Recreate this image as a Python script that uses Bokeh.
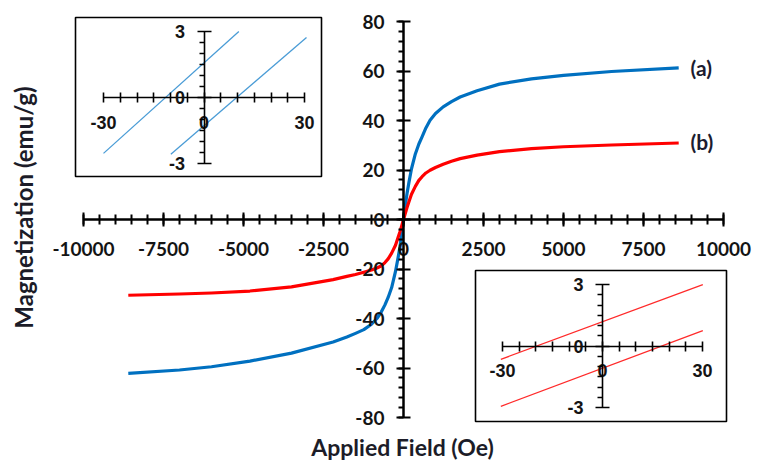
import numpy as np
from bokeh.plotting import figure
from bokeh.models import LinearAxis, Range1d, FixedTicker, NumeralTickFormatter
from bokeh.core.properties import value
from bokeh.embed import file_html
from bokeh.resources import INLINE

# ---------------- data ----------------
field_oe = [-8600, -7000, -6000, -4800, -3500, -2200, -1770, -1500, -1240, -1000, -830, -700, -580, -480,
            -370, -250, -170, -110, -50, 0,
            50, 110, 170, 250, 370, 480, 580, 700, 830, 1000, 1240, 1500, 1770, 2300, 3000, 4000, 5000,
            6500, 8600]
mag_a = [-62.2, -60.8, -59.5, -57.2, -54.0, -49.5, -47.5, -46.0, -44.5, -42.3, -40.0, -37.5, -34.5, -31.5,
         -27.5, -21.0, -15.5, -11.0, -5.0, 0.0,
         5.0, 10.5, 15.0, 20.5, 26.5, 30.5, 33.4, 37.0, 40.1, 42.8, 45.5, 47.6, 49.5, 52.0, 54.7, 56.8, 58.2,
         59.8, 61.3]
mag_b = [-30.6, -30.1, -29.7, -28.9, -27.2, -24.3, -23.0, -22.2, -21.3, -20.4, -19.6, -18.8, -17.4, -15.9,
         -13.6, -10.4, -7.3, -4.9, -2.3, 0.0,
         2.2, 4.8, 7.2, 10.2, 13.4, 15.8, 17.3, 18.8, 19.9, 21.0, 22.3, 23.5, 24.6, 26.0, 27.4, 28.6, 29.4,
         30.1, 30.9]
series_labels = ["(a)", "(b)"]

x_ticks = [-10000, -7500, -5000, -2500, 0, 2500, 5000, 7500, 10000]
x_minor = list(range(-10000, 10001, 500))
y_ticks = [-80, -60, -40, -20, 0, 20, 40, 60, 80]
y_minor = list(range(-80, 81, 4))

# inset (a): low-field loop, blue
ina_up_h = [-30.0, 10.4]
ina_up_m = [-2.54, 3.0]
ina_lo_h = [-9.9, 30.6]
ina_lo_m = [-2.58, 2.73]
# inset (b): low-field loop, red
inb_up_h = [-30.5, 30.1]
inb_up_m = [-0.65, 2.99]
inb_lo_h = [-30.5, 30.1]
inb_lo_m = [-2.94, 0.75]

in_x_ticks = [-30, 0, 30]
in_x_minor = [-25, -20, -15, -10, -5, 5, 10, 15, 20, 25]
in_y_ticks = [-3, 0, 3]
in_y_minor = [-2.5, -2, -1.5, -1, -0.5, 0.5, 1, 1.5, 2, 2.5]

# ---------------- layout helpers ----------------
W, H = 760, 463


def xr(d0, p0, d1, p1):
    s = (p1 - p0) / (d1 - d0)
    start = d0 - p0 / s
    return Range1d(start=start, end=start + W / s)


def yr(d0, p0, d1, p1):
    s = (p1 - p0) / (d0 - d1)
    top = d0 + p0 / s
    return Range1d(start=top - H / s, end=top)


main_x = xr(-10000, 83, 10000, 723)
main_y = yr(80, 21, -80, 417)


def px(p):
    return main_x.start + p * (main_x.end - main_x.start) / W


def py(p):
    return main_y.end - p * (main_y.end - main_y.start) / H


p = figure(width=W, height=H, x_range=main_x, y_range=main_y, x_axis_type=None, y_axis_type=None,
           toolbar_location=None, output_backend="svg", min_border=0)
p.outline_line_color = None
p.background_fill_color = "white"
p.border_fill_color = "white"
p.title.visible = False

p.extra_x_ranges = {"iax": xr(-30, 103, 30, 304), "ibx": xr(-30, 502, 30, 702)}
p.extra_y_ranges = {"iay": yr(3, 31, -3, 163), "iby": yr(3, 284, -3, 407)}

FONT = "Lato"
TXT = "#141414"


def style_axis(ax, font, size, standoff):
    ax.formatter = NumeralTickFormatter(format="0")
    ax.major_label_text_font = font
    ax.major_label_text_font_style = "bold"
    ax.major_label_text_font_size = size
    ax.major_label_text_color = TXT
    ax.major_label_standoff = standoff
    ax.axis_line_color = "black"
    ax.major_tick_line_color = "black"
    ax.minor_tick_line_color = "black"


# main axes crossing at the origin
ax_x = LinearAxis(fixed_location=0, bounds=(-10000, 10000),
                  ticker=FixedTicker(ticks=x_ticks, minor_ticks=x_minor))
style_axis(ax_x, FONT, "19px", 15)
ax_x.axis_line_width = 2.5
ax_x.major_tick_in = 7
ax_x.major_tick_out = 7
ax_x.minor_tick_in = 5
ax_x.minor_tick_out = 5
ax_x.major_tick_line_width = 2
ax_x.minor_tick_line_width = 2
p.add_layout(ax_x, "below")

ax_y = LinearAxis(fixed_location=0, bounds=(-80, 80),
                  ticker=FixedTicker(ticks=y_ticks, minor_ticks=y_minor))
style_axis(ax_y, FONT, "19px", 12)
ax_y.axis_line_width = 2.5
ax_y.major_tick_in = 7
ax_y.major_tick_out = 7
ax_y.minor_tick_in = 0
ax_y.minor_tick_out = 5
ax_y.major_tick_line_width = 2
ax_y.minor_tick_line_width = 2
p.add_layout(ax_y, "left")

# main curves
p.line(field_oe, mag_a, line_color="#0070C0", line_width=3.2, line_join="round")
p.line(field_oe, mag_b, line_color="#FF0000", line_width=3.2, line_join="round")

# series labels near the curve ends
p.text(x=[px(690), px(690)], y=[py(67), py(141)], text=series_labels,
       text_font=value(FONT), text_font_style="bold", text_font_size="21px",
       text_color="#1c1c30", text_align="left", text_baseline="middle")

# axis titles
p.text(x=[px(402)], y=[py(446)], text=["Applied Field (Oe)"],
       text_font=value(FONT), text_font_style="bold", text_font_size="23px",
       text_color="#1c1c28", text_align="center", text_baseline="middle")
p.text(x=[px(23)], y=[py(207)], text=["Magnetization (emu/g)"], angle=np.pi / 2,
       text_font=value(FONT), text_font_style="bold", text_font_size="24px",
       text_color="#1c1c28", text_align="center", text_baseline="middle")

# inset frames
p.quad(left=[px(75), px(475)], right=[px(321), px(726)], top=[py(17), py(270)], bottom=[py(176), py(421)],
       fill_color="white", line_color="black", line_width=1.6)

# inset lines
p.line(ina_up_h, ina_up_m, x_range_name="iax", y_range_name="iay", line_color="#4a9cd6", line_width=1.3)
p.line(ina_lo_h, ina_lo_m, x_range_name="iax", y_range_name="iay", line_color="#4a9cd6", line_width=1.3)
p.line(inb_up_h, inb_up_m, x_range_name="ibx", y_range_name="iby", line_color="#ff2a2a", line_width=1.3)
p.line(inb_lo_h, inb_lo_m, x_range_name="ibx", y_range_name="iby", line_color="#ff2a2a", line_width=1.3)

IFONT = "Liberation Sans"
for rx, ry in (("iax", "iay"), ("ibx", "iby")):
    ix = LinearAxis(x_range_name=rx, y_range_name=ry, fixed_location=0, bounds=(-30, 30),
                    ticker=FixedTicker(ticks=in_x_ticks, minor_ticks=in_x_minor))
    style_axis(ix, IFONT, "18px", 13)
    ix.axis_line_width = 1.6
    ix.major_tick_in = 5
    ix.major_tick_out = 5
    ix.minor_tick_in = 5
    ix.minor_tick_out = 5
    ix.major_tick_line_width = 1.6
    ix.minor_tick_line_width = 1.6
    p.add_layout(ix, "below")

    iy = LinearAxis(x_range_name=rx, y_range_name=ry, fixed_location=0, bounds=(-3, 3),
                    ticker=FixedTicker(ticks=in_y_ticks, minor_ticks=in_y_minor))
    style_axis(iy, IFONT, "18px", 12)
    iy.axis_line_width = 1.6
    iy.major_tick_in = 7
    iy.major_tick_out = 7
    iy.minor_tick_in = 0
    iy.minor_tick_out = 5
    iy.major_tick_line_width = 1.6
    iy.minor_tick_line_width = 1.6
    p.add_layout(iy, "left")

open("out.html", "w").write(file_html(p, INLINE))
